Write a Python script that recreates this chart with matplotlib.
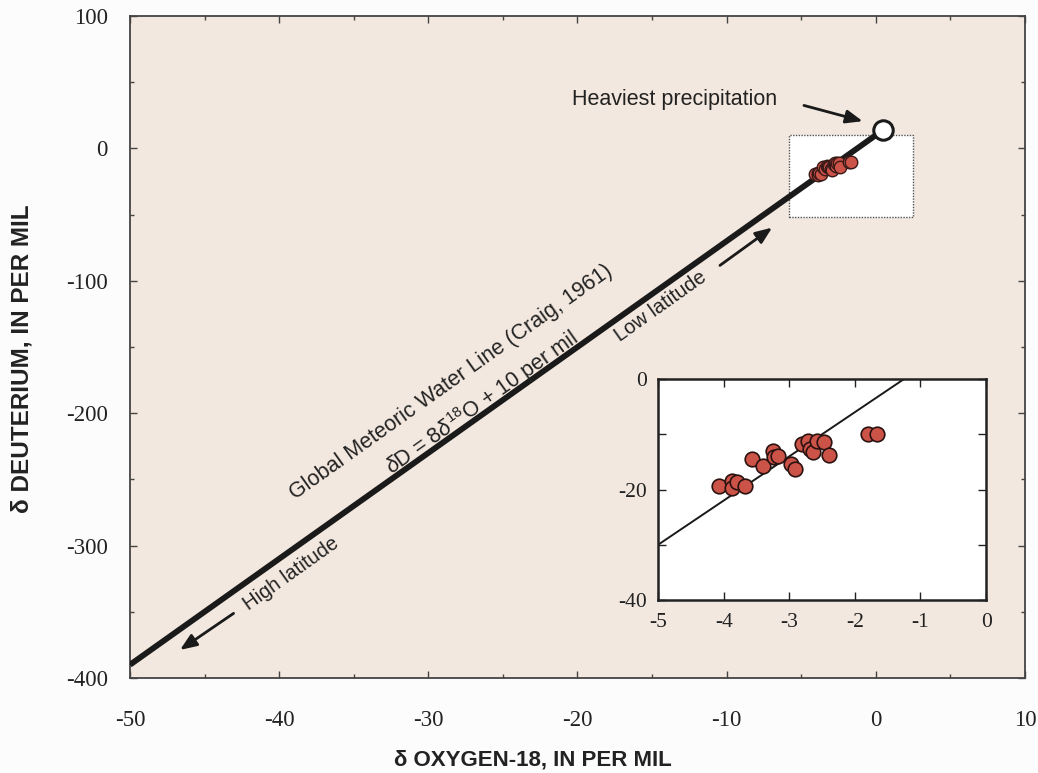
import numpy as np
import matplotlib
matplotlib.use("Agg")
from matplotlib import pyplot as plt
from matplotlib.patches import Rectangle

# values
sample_o18 = [-4.07, -3.87, -3.88, -3.80, -3.68, -3.57, -3.40, -3.25, -3.23, -3.17,
              -2.98, -2.91, -2.80, -2.72, -2.69, -2.64, -2.58, -2.47, -2.39, -1.80, -1.67]
sample_dd = [-19.3, -18.4, -19.8, -18.7, -19.3, -14.4, -15.7, -13.0, -14.1, -13.9,
             -15.4, -16.2, -11.8, -11.2, -12.7, -13.2, -11.2, -11.4, -13.7, -10.0, -10.0]

gmwl_x = [-50, 0.5]
gmwl_y = [-390, 14]
inset_line_x = [-5, -1.25]
inset_line_y = [-30, 0]
heaviest = (0.5, 14)

x_ticks = [-50, -40, -30, -20, -10, 0, 10]
y_ticks = [-400, -300, -200, -100, 0, 100]
inset_x_ticks = [-5, -4, -3, -2, -1, 0]
inset_y_ticks = [-40, -20, 0]

bg = "#f3e8df"
red = "#cc5348"

plt.rcParams['font.family'] = ['Liberation Sans', 'DejaVu Sans']
plt.rcParams['mathtext.fontset'] = 'custom'
plt.rcParams['mathtext.rm'] = 'Liberation Sans'
plt.rcParams['mathtext.it'] = 'Liberation Sans:italic'
plt.rcParams['axes.unicode_minus'] = False


def main():
	fig = plt.figure(figsize=(10.38, 7.73), dpi=100)
	fig.patch.set_facecolor("#fcfcfc")

	ax = fig.add_axes([0.1252, 0.1229, 0.8623, 0.8564])
	ax.set_facecolor(bg)
	ax.set_xlim(-50, 10)
	ax.set_ylim(-400, 100)
	ax.set_xticks(x_ticks)
	ax.set_yticks(y_ticks)
	ax.set_xticks(np.arange(-45, 10, 10), minor=True)
	ax.set_yticks(np.arange(-350, 100, 100), minor=True)
	ax.tick_params(which='both', direction='in', top=True, right=True, color='#444444', width=1)
	ax.tick_params(which='major', length=5)
	ax.tick_params(which='minor', length=3)
	ax.tick_params(axis='x', pad=23)
	ax.tick_params(axis='y', pad=16)
	for lab in ax.get_xticklabels() + ax.get_yticklabels():
		lab.set_fontfamily('Liberation Serif')
		lab.set_fontsize(16.5)
		lab.set_color('#222222')
	for s in ax.spines.values():
		s.set_color('#444444')
		s.set_linewidth(1.3)

	ax.set_xlabel("δ OXYGEN-18, IN PER MIL", fontsize=16, fontweight='bold', color='#222222', labelpad=12)
	ax.xaxis.set_label_coords(0.45, -0.108)
	ax.set_ylabel("δ DEUTERIUM, IN PER MIL", fontsize=17.5, fontweight='bold', color='#222222')
	ax.yaxis.set_label_coords(-0.108, 0.483)

	# white box showing the inset area
	ax.add_patch(Rectangle((-5.8, -52), 8.3, 62, facecolor='white', edgecolor='#555555',
						   linestyle=(0, (1, 1)), linewidth=1, zorder=2))

	ax.plot(gmwl_x, gmwl_y, color='#1a1a1a', linewidth=4.2, solid_capstyle='butt', zorder=3)
	ax.plot(sample_o18, sample_dd, 'o', markersize=9, markerfacecolor=red,
			markeredgecolor='#3a1a18', markeredgewidth=1, zorder=4)
	ax.plot([heaviest[0]], [heaviest[1]], 'o', markersize=14, markerfacecolor='white',
			markeredgecolor='#1a1a1a', markeredgewidth=2.2, zorder=5)

	rot = 35.4
	ax.text(-28.5, -177, "Global Meteoric Water Line (Craig, 1961)", rotation=rot,
			rotation_mode='anchor', ha='center', va='center', fontsize=15.5, color='#222222')
	ax.text(-26.4, -192, r"$\delta$D = 8$\delta^{18}$O + 10 per mil", rotation=rot,
			rotation_mode='anchor', ha='center', va='center', fontsize=15.5, color='#222222')
	ax.text(-39.2, -321, "High latitude", rotation=rot, rotation_mode='anchor',
			ha='center', va='center', fontsize=14.5, color='#222222')
	ax.text(-14.4, -119, "Low latitude", rotation=rot, rotation_mode='anchor',
			ha='center', va='center', fontsize=14.5, color='#222222')

	arrow = dict(arrowstyle='-|>,head_length=1.0,head_width=0.4', color='#1a1a1a', lw=2)
	ax.annotate("", xy=(-46.8, -380), xytext=(-42.9, -350), arrowprops=arrow)
	ax.annotate("", xy=(-6.8, -58.6), xytext=(-10.6, -89.6), arrowprops=arrow)
	ax.annotate("", xy=(-0.7, 20), xytext=(-5.0, 33), arrowprops=arrow)
	ax.text(-20.4, 36.6, "Heaviest precipitation", ha='left', va='center',
			fontsize=15.5, color='#222222')

	# inset
	ins = fig.add_axes([0.634, 0.2238, 0.316, 0.2859])
	ins.set_facecolor('white')
	ins.set_xlim(-5, 0)
	ins.set_ylim(-40, 0)
	ins.set_xticks(inset_x_ticks)
	ins.set_yticks(inset_y_ticks)
	ins.set_yticks([-30, -10], minor=True)
	ins.tick_params(which='both', direction='in', top=True, right=True, length=6,
					width=1, color='#222222')
	ins.tick_params(axis='x', pad=9)
	ins.tick_params(axis='y', pad=8)
	for lab in ins.get_xticklabels() + ins.get_yticklabels():
		lab.set_fontfamily('Liberation Serif')
		lab.set_fontsize(15.5)
		lab.set_color('#222222')
	for s in ins.spines.values():
		s.set_color('#222222')
		s.set_linewidth(1.8)
	ins.plot(inset_line_x, inset_line_y, color='#1a1a1a', linewidth=1.4, zorder=2)
	ins.plot(sample_o18, sample_dd, 'o', markersize=10.5, markerfacecolor=red,
			 markeredgecolor='#2a1210', markeredgewidth=1.2, zorder=3, clip_on=False)

	plt.savefig('out.png', dpi=100, facecolor=fig.get_facecolor())


if __name__ == '__main__':
	main()
